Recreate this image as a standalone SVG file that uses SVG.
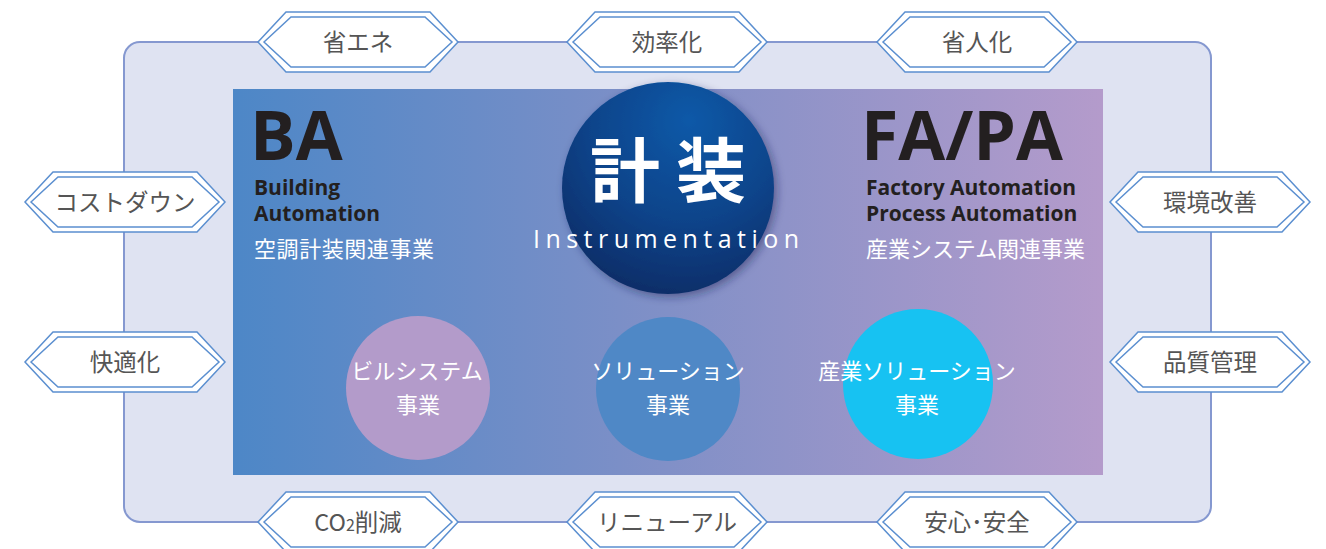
<svg xmlns="http://www.w3.org/2000/svg" width="1326" height="549" viewBox="0 0 1326 549">
<defs>
<linearGradient id="bandGrad" x1="0" y1="0" x2="1" y2="0">
<stop offset="0" stop-color="#4d87c7"/>
<stop offset="0.5" stop-color="#8190c7"/>
<stop offset="1" stop-color="#b49bcb"/>
</linearGradient>
<radialGradient id="coreGrad" cx="0.58" cy="0.22" r="0.85" fx="0.6" fy="0.18">
<stop offset="0" stop-color="#0759a8"/>
<stop offset="0.55" stop-color="#0a4389"/>
<stop offset="1" stop-color="#0b2a63"/>
</radialGradient>
<filter id="shadow" x="-20%" y="-20%" width="140%" height="140%">
<feGaussianBlur in="SourceAlpha" stdDeviation="4"/>
<feOffset dx="3" dy="3" result="b"/>
<feFlood flood-color="#1a2250" flood-opacity="0.45"/>
<feComposite in2="b" operator="in"/>
<feMerge><feMergeNode/><feMergeNode in="SourceGraphic"/></feMerge>
</filter>
<polygon id="hexOuter" points="-100,0 -72,-30 72,-30 100,0 72,30 -72,30"/>
<polygon id="hexInner" points="-94,0 -67,-25 67,-25 94,0 67,25 -67,25"/>
</defs>
<style>
.frame{fill:#dfe3f2;stroke:#8598d0;stroke-width:2}
.hexo{fill:#ffffff;stroke:#5b8fd0;stroke-width:1.5}
.hexi{fill:#ffffff;stroke:#5b8fd0;stroke-width:1.5}
.hexlabel{font-family:"Noto Sans CJK JP","Noto Sans",sans-serif;font-size:23.5px;fill:#555555;text-anchor:middle}
.big{font-family:"Open Sans","Noto Sans",sans-serif;font-weight:bold;font-size:68px;fill:#231f20}
.sub{font-family:"Open Sans","Noto Sans",sans-serif;font-weight:bold;font-size:21px;fill:#231f20}
.jp{font-family:"Noto Sans CJK JP",sans-serif;font-size:22px;fill:#ffffff}
.circtext{font-family:"Noto Sans CJK JP",sans-serif;font-size:22px;fill:#ffffff;text-anchor:middle}
</style>
<rect class="frame" x="124" y="42" width="1087" height="480" rx="16" ry="16"/>
<rect x="233" y="89" width="870" height="386" fill="url(#bandGrad)"/>
<g id="ba">
<text class="big" x="250" y="160">BA</text>
<text class="sub" x="254" y="195">Building</text>
<text class="sub" x="254" y="221">Automation</text>
<text class="jp" x="254" y="257" textLength="180" lengthAdjust="spacing">空調計装関連事業</text>
</g>
<g id="fapa">
<text class="big" x="861" y="160">FA/PA</text>
<text class="sub" x="866" y="195">Factory Automation</text>
<text class="sub" x="866" y="221">Process Automation</text>
<text class="jp" x="866" y="257" textLength="219" lengthAdjust="spacing">産業システム関連事業</text>
</g>
<g id="core">
<circle cx="668" cy="188" r="106" fill="url(#coreGrad)" filter="url(#shadow)"/>
<text x="668" y="197" text-anchor="middle" font-family="Noto Sans CJK JP, sans-serif" font-weight="bold" font-size="70" fill="#ffffff">計 装</text>
<text x="533" y="248" textLength="266" lengthAdjust="spacing" font-family="Open Sans, Noto Sans, sans-serif" font-size="25" fill="#ffffff">Instrumentation</text>
</g>
<g id="building-system">
<circle cx="418" cy="388" r="72" fill="#b39bca"/>
<text class="circtext" x="417" y="379">ビルシステム</text>
<text class="circtext" x="418" y="413">事業</text>
</g>
<g id="solution">
<circle cx="668" cy="389" r="72" fill="#4f88c6"/>
<text class="circtext" x="668" y="379">ソリューション</text>
<text class="circtext" x="668" y="413">事業</text>
</g>
<g id="industrial-solution">
<circle cx="918" cy="384" r="75" fill="#17c2f2"/>
<text class="circtext" x="917" y="379">産業ソリューション</text>
<text class="circtext" x="917" y="413">事業</text>
</g>
<g id="energy-saving" transform="translate(358,42)">
<use href="#hexOuter" class="hexo"/><use href="#hexInner" class="hexi"/>
<text class="hexlabel" x="0" y="9">省エネ</text>
</g>
<g id="efficiency" transform="translate(667,42)">
<use href="#hexOuter" class="hexo"/><use href="#hexInner" class="hexi"/>
<text class="hexlabel" x="0" y="9">効率化</text>
</g>
<g id="labor-saving" transform="translate(977,42)">
<use href="#hexOuter" class="hexo"/><use href="#hexInner" class="hexi"/>
<text class="hexlabel" x="0" y="9">省人化</text>
</g>
<g id="cost-down" transform="translate(125,202)">
<use href="#hexOuter" class="hexo"/><use href="#hexInner" class="hexi"/>
<text class="hexlabel" x="0" y="9">コストダウン</text>
</g>
<g id="comfort" transform="translate(125,362)">
<use href="#hexOuter" class="hexo"/><use href="#hexInner" class="hexi"/>
<text class="hexlabel" x="0" y="9">快適化</text>
</g>
<g id="environment" transform="translate(1210,202)">
<use href="#hexOuter" class="hexo"/><use href="#hexInner" class="hexi"/>
<text class="hexlabel" x="0" y="9">環境改善</text>
</g>
<g id="quality" transform="translate(1210,362)">
<use href="#hexOuter" class="hexo"/><use href="#hexInner" class="hexi"/>
<text class="hexlabel" x="0" y="9">品質管理</text>
</g>
<g id="co2" transform="translate(358,522)">
<use href="#hexOuter" class="hexo"/><use href="#hexInner" class="hexi"/>
<text class="hexlabel" x="0" y="9">CO<tspan font-size="16">2</tspan>削減</text>
</g>
<g id="renewal" transform="translate(667,522)">
<use href="#hexOuter" class="hexo"/><use href="#hexInner" class="hexi"/>
<text class="hexlabel" x="0" y="9">リニューアル</text>
</g>
<g id="safety" transform="translate(977,522)">
<use href="#hexOuter" class="hexo"/><use href="#hexInner" class="hexi"/>
<text class="hexlabel" x="0" y="9">安心･安全</text>
</g>
<g id="connectors"/>
</svg>
